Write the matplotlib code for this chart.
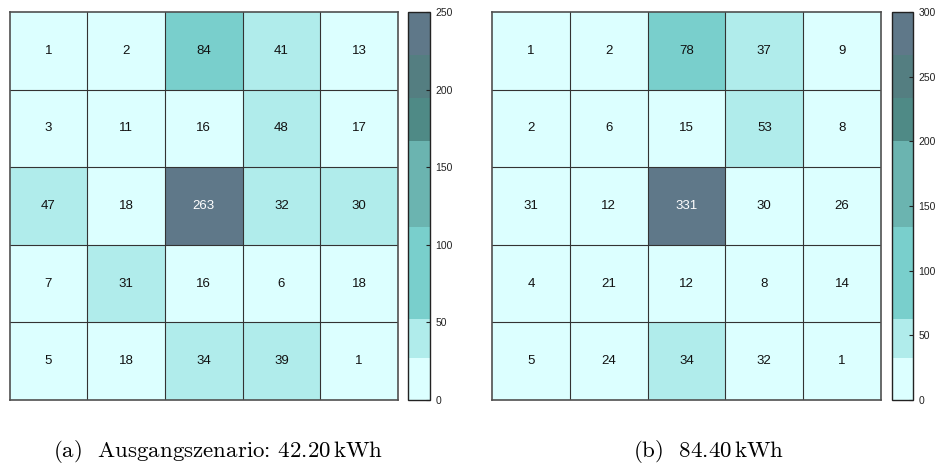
import numpy as np
import matplotlib
matplotlib.use("Agg")
import matplotlib.pyplot as plt
from matplotlib.colors import ListedColormap, BoundaryNorm
from matplotlib.cm import ScalarMappable

# Cell counts (rows top to bottom)
counts_a = [
    [1, 2, 84, 41, 13],
    [3, 11, 16, 48, 17],
    [47, 18, 263, 32, 30],
    [7, 31, 16, 6, 18],
    [5, 18, 34, 39, 1],
]
counts_b = [
    [1, 2, 78, 37, 9],
    [2, 6, 15, 53, 8],
    [31, 12, 331, 30, 26],
    [4, 21, 12, 8, 14],
    [5, 24, 34, 32, 1],
]
cbar_max_a = 250
cbar_max_b = 300
cbar_ticks_a = [0, 50, 100, 150, 200, 250]
cbar_ticks_b = [0, 50, 100, 150, 200, 250, 300]
caption_a = r"(a)  Ausgangszenario: 42.20$\,$kWh"
caption_b = r"(b)  84.40$\,$kWh"

plt.rcParams["mathtext.fontset"] = "cm"

# Palette bands as fractions of the colour-range maximum
band_fracs = [0.0, 0.107, 0.21, 0.445, 0.668, 0.778, 0.889, 1.0]
band_colors = ["#dcffff", "#b0eceb", "#79cfcc", "#6bb4b0", "#4f8a86",
               "#547e81", "#5f7889"]
cmap = ListedColormap(band_colors)

fig = plt.figure(figsize=(9.4, 4.7), dpi=100)
W, H = 940.0, 470.0


def rect(x0, y0, x1, y1):
    return [x0 / W, 1 - y1 / H, (x1 - x0) / W, (y1 - y0) / H]


def draw_panel(data, vmax, ticks, ax_rect, cax_rect, caption, cap_x):
    arr = np.array(data, dtype=float)
    bounds = [f * vmax for f in band_fracs]
    norm = BoundaryNorm(bounds, ncolors=len(band_colors), clip=True)
    ax = fig.add_axes(ax_rect)
    nrows, ncols = arr.shape
    ax.pcolormesh(np.arange(ncols + 1), np.arange(nrows + 1), arr,
                  cmap=cmap, norm=norm, edgecolors="none")
    for k in range(1, ncols):
        ax.axvline(k, color="#333333", linewidth=0.8)
    for k in range(1, nrows):
        ax.axhline(k, color="#333333", linewidth=0.8)
    ax.set_xlim(0, ncols)
    ax.set_ylim(nrows, 0)
    ax.set_xticks([])
    ax.set_yticks([])
    for s in ax.spines.values():
        s.set_color("#505050")
        s.set_linewidth(1.2)
    for r in range(nrows):
        for c in range(ncols):
            v = arr[r, c]
            col = "white" if v / vmax > 0.889 else "#111111"
            ax.text(c + 0.5, r + 0.5, f"{int(v)}", ha="center", va="center",
                    fontsize=9.5, color=col, family="Liberation Sans")

    cax = fig.add_axes(cax_rect)
    sm = ScalarMappable(norm=norm, cmap=cmap)
    cb = fig.colorbar(sm, cax=cax, boundaries=bounds, spacing="proportional",
                      ticks=ticks)
    cb.minorticks_off()
    cb.outline.set_edgecolor("#222222")
    cb.outline.set_linewidth(1.0)
    cax.tick_params(axis="y", which="both", direction="in", length=3,
                    width=0.8, labelsize=7.5, pad=4, colors="#222222",
                    left=False, right=True)
    for lab in cax.get_yticklabels():
        lab.set_family("Liberation Sans")
    fig.text(cap_x / W, 1 - 457 / H, caption, ha="center", va="baseline",
             fontsize=16.5, family="cmr10")


draw_panel(counts_a, cbar_max_a, cbar_ticks_a,
           rect(9.5, 12, 398, 400), rect(408, 12, 430, 400), caption_a, 218)
draw_panel(counts_b, cbar_max_b, cbar_ticks_b,
           rect(492, 12, 881, 400), rect(892, 12, 913, 400), caption_b, 709)

fig.savefig("out.png", dpi=100)
